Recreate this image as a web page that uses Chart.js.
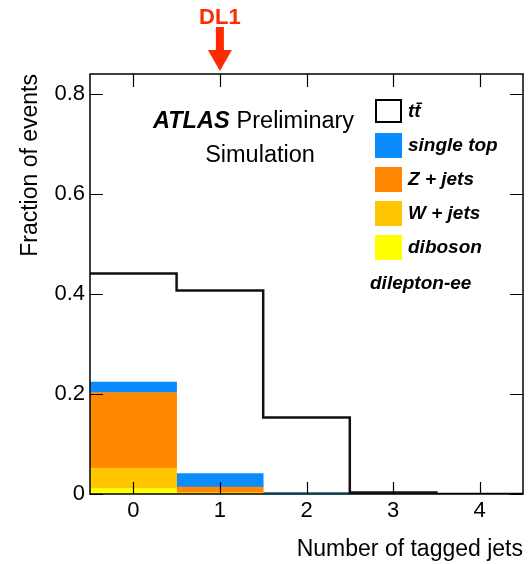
<!DOCTYPE html>
<html>
<head>
<meta charset="utf-8">
<script src="https://cdn.jsdelivr.net/npm/chart.js@4"></script>
<style>
  html, body { margin: 0; padding: 0; background: #fff; }
  canvas { display: block; }
</style>
</head>
<body>
<canvas id="c" width="531" height="564"></canvas>
<script>
// Bin labels: number of b-tagged jets
const binLabels = ['0', '1', '2', '3', '4'];

// Fraction of events per bin, for each process
const ttbar     = [0.441, 0.407, 0.153, 0.003, 0.0];
const singleTop = [0.021, 0.027, 0.002, 0.0, 0.0];
const zJets     = [0.151, 0.011, 0.0006, 0.0, 0.0];
const wJets     = [0.041, 0.002, 0.0004, 0.0, 0.0];
const diboson   = [0.011, 0.001, 0.0003, 0.0, 0.0];

// Text
const processNames = {
  ttbar: 'tt\u0304',
  singleTop: 'single top',
  zJets: 'Z + jets',
  wJets: 'W + jets',
  diboson: 'diboson'
};
const channelLabel = 'dilepton-ee';
const taggerLabel = 'DL1';
const taggerBin = 1;

const FONT = '"Liberation Sans", Arial, Helvetica, sans-serif';
const colors = {
  singleTop: '#0a8cff',
  zJets: '#ff8800',
  wJets: '#ffc500',
  diboson: '#ffff00',
  tagger: '#ff2a00'
};

// ttbar drawn as a histogram outline: one point per lower bin edge plus the last edge
const ttbarSteps = ttbar.map((v, i) => ({ x: i - 0.5, y: v }));
ttbarSteps.push({ x: ttbar.length - 0.5, y: ttbar[ttbar.length - 1] });

function barSet(key, values) {
  return {
    type: 'bar',
    label: processNames[key],
    data: values,
    backgroundColor: colors[key],
    borderWidth: 0,
    barPercentage: 1.0,
    categoryPercentage: 1.0,
    grouped: false,
    stack: 'bkg',
    order: 1
  };
}

// Inward tick marks on all four sides plus the frame
const frameTicks = {
  id: 'frameTicks',
  afterDatasetsDraw(chart) {
    const { ctx, chartArea: a, scales } = chart;
    const x = scales.x, y = scales.y;
    ctx.save();
    ctx.strokeStyle = '#000';
    ctx.lineWidth = 1.2;
    ctx.beginPath();
    y.ticks.forEach(t => {
      const py = Math.round(y.getPixelForValue(t.value)) + 0.5;
      ctx.moveTo(a.left, py); ctx.lineTo(a.left + 13, py);
      ctx.moveTo(a.right, py); ctx.lineTo(a.right - 13, py);
    });
    x.ticks.forEach((t, i) => {
      const px = Math.round(x.getPixelForTick(i)) + 0.5;
      ctx.moveTo(px, a.bottom); ctx.lineTo(px, a.bottom - 12);
      ctx.moveTo(px, a.top); ctx.lineTo(px, a.top + 13);
    });
    ctx.stroke();
    ctx.lineWidth = 1.5;
    ctx.strokeRect(a.left, a.top, a.right - a.left, a.bottom - a.top);
    ctx.restore();
  }
};

// ATLAS label, legend, channel name and tagger arrow
const annotations = {
  id: 'annotations',
  afterDraw(chart) {
    const { ctx, scales } = chart;
    ctx.save();
    ctx.fillStyle = '#000';
    ctx.textAlign = 'left';
    ctx.textBaseline = 'alphabetic';
    ctx.font = `italic bold 23.5px ${FONT}`;
    ctx.fillText('ATLAS', 153, 128);
    const atlasW = ctx.measureText('ATLAS').width;
    ctx.font = `23.5px ${FONT}`;
    ctx.fillText('Preliminary', 153 + atlasW + 7, 128);
    ctx.textAlign = 'center';
    ctx.fillText('Simulation', 260, 162);

    // legend
    const byLabel = {};
    chart.data.datasets.forEach(d => { byLabel[d.label] = d; });
    const order = ['ttbar', 'singleTop', 'zJets', 'wJets', 'diboson'];
    order.forEach((key, i) => {
      const ds = byLabel[processNames[key]];
      const top = 99 + i * 34;
      if (ds.type === 'line') {
        ctx.fillStyle = '#fff';
        ctx.fillRect(375, top, 27, 24);
        ctx.strokeStyle = '#000';
        ctx.lineWidth = 2;
        ctx.strokeRect(376, top + 1, 25, 22);
      } else {
        ctx.fillStyle = ds.backgroundColor;
        ctx.fillRect(375, top, 27, 25);
      }
      ctx.fillStyle = '#000';
      ctx.textAlign = 'left';
      ctx.textBaseline = 'middle';
      ctx.font = `italic bold 19px ${FONT}`;
      ctx.fillText(ds.label, 408, top + 13);
    });
    ctx.font = `italic bold 19px ${FONT}`;
    ctx.fillText(channelLabel, 370, 284);

    // tagger arrow pointing at its bin
    const ax = scales.x.getPixelForValue(taggerBin);
    ctx.fillStyle = colors.tagger;
    ctx.textAlign = 'center';
    ctx.textBaseline = 'alphabetic';
    ctx.font = `bold 22px ${FONT}`;
    ctx.fillText(taggerLabel, ax, 24);
    ctx.fillRect(ax - 4, 27, 8, 24);
    ctx.beginPath();
    ctx.moveTo(ax - 12, 50);
    ctx.lineTo(ax + 12, 50);
    ctx.lineTo(ax, 71);
    ctx.closePath();
    ctx.fill();
    ctx.restore();
  }
};

new Chart(document.getElementById('c'), {
  type: 'bar',
  data: {
    labels: binLabels,
    datasets: [
      barSet('diboson', diboson),
      barSet('wJets', wJets),
      barSet('zJets', zJets),
      barSet('singleTop', singleTop),
      {
        type: 'line',
        label: processNames.ttbar,
        data: ttbarSteps,
        xAxisID: 'xs',
        stack: 'tt',
        stepped: 'before',
        borderColor: '#111',
        borderWidth: 2.5,
        pointRadius: 0,
        fill: false,
        order: 0
      }
    ]
  },
  options: {
    responsive: false,
    animation: false,
    devicePixelRatio: 1,
    layout: { padding: { left: 0, right: 8, top: 74, bottom: 0 } },
    plugins: {
      legend: { display: false },
      tooltip: { enabled: false }
    },
    scales: {
      x: {
        type: 'category',
        stacked: true,
        offset: true,
        grid: { display: false, drawTicks: false },
        border: { display: false },
        ticks: { color: '#000', padding: 4, font: { family: FONT, size: 22 } },
        title: {
          display: true,
          text: 'Number of tagged jets',
          align: 'end',
          color: '#000',
          font: { family: FONT, size: 23 },
          padding: { top: 0, bottom: 1 }
        },
        afterFit(s) { s.height = 70; }
      },
      xs: {
        type: 'linear',
        display: false,
        min: -0.5,
        max: 4.5,
        offset: false
      },
      y: {
        stacked: true,
        min: 0,
        max: 0.84,
        grid: { display: false, drawTicks: false },
        border: { display: false },
        ticks: {
          stepSize: 0.2,
          includeBounds: false,
          color: '#000',
          padding: 5,
          font: { family: FONT, size: 22 },
          callback: v => (v === 0 ? '0' : v.toFixed(1))
        },
        title: {
          display: true,
          text: 'Fraction of events',
          align: 'end',
          color: '#000',
          font: { family: FONT, size: 23 },
          padding: { top: 17, bottom: 0 }
        },
        afterFit(s) { s.width = 90; }
      }
    }
  },
  plugins: [frameTicks, annotations]
});
</script>
</body>
</html>
